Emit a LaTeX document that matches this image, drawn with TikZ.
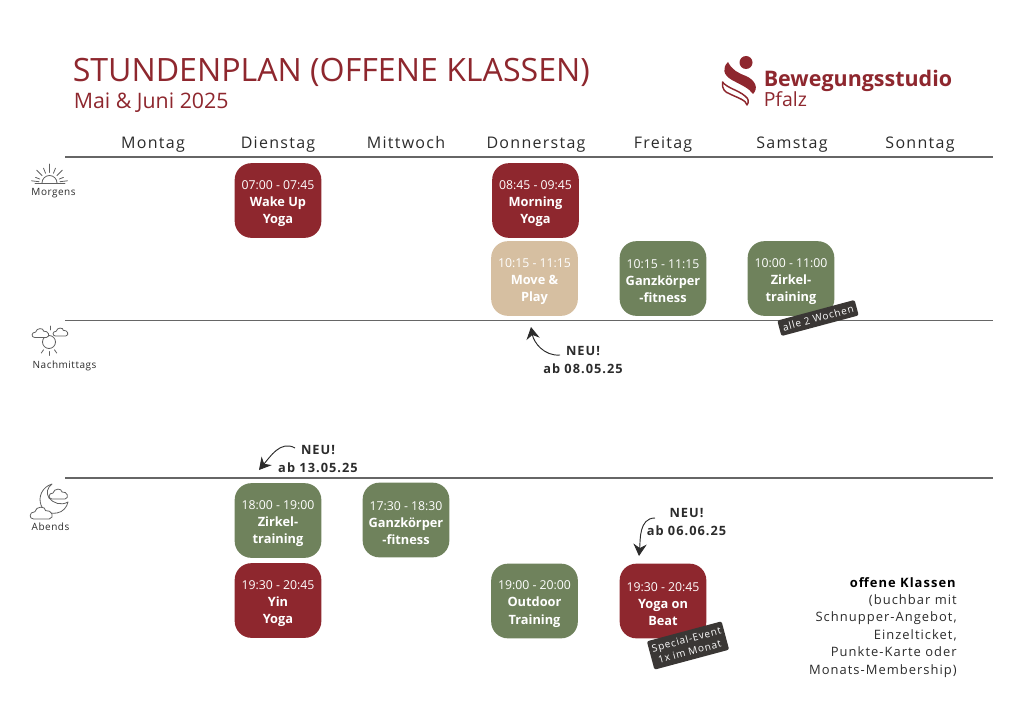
\documentclass[tikz,border=0pt]{standalone}
\usepackage{fontspec}
\setmainfont{Open Sans}
\newfontfamily\spaced[LetterSpace=8]{Open Sans}
\newfontfamily\spacedsmall[LetterSpace=5]{Open Sans}
\usetikzlibrary{arrows.meta}
\definecolor{wine}{HTML}{8E272E}
\definecolor{moss}{HTML}{6F825C}
\definecolor{sand}{HTML}{D6BFA1}
\definecolor{tagdark}{HTML}{3A3735}
\definecolor{rulegrey}{HTML}{666666}
\definecolor{ink}{HTML}{2B2B2B}
\newcommand{\blocktext}[3]{{\fontsize{9.2}{12.9}\selectfont\rule{0pt}{11pt}#1}\\\textbf{#2}\\\textbf{#3}}
\begin{document}
\begin{tikzpicture}
	[x=.75pt,y=-.75pt,
	block/.style ={rectangle, rounded corners=12.5pt, minimum width=65pt, minimum height=56pt, inner sep=0pt, text=white, align=center, font=\fontsize{9.6}{12.9}\selectfont},
	redblock/.style ={block, fill=wine},
	greenblock/.style ={block, fill=moss},
	sandblock/.style ={block, fill=sand},
	day/.style ={anchor=base, font=\fontsize{12}{14}\spaced, text=ink},
	daytime/.style ={anchor=base, font=\fontsize{7.5}{9}\spacedsmall, text=ink},
	newnote/.style ={font=\fontsize{9.6}{13}\spaced\bfseries, text=ink, align=center},
	tag/.style ={rectangle, rounded corners=1.5pt, fill=tagdark, text=white, align=center, inner sep=0pt, font=\fontsize{7.5}{9.4}\spaced},
	rule/.style ={rulegrey, line width=1.1pt},
	icon/.style ={ink!75, line width=.6pt, line cap=round, line join=round},
	hand/.style ={ink, line width=.7pt, -{Stealth[length=9pt,width=10pt,inset=3pt]}},
	cloudicon/.pic ={\draw[icon, fill=white] (-7,5) .. controls (-11,5) and (-11,-1) .. (-6,-1) .. controls (-5,-6) and (3,-6) .. (3,-2) .. controls (8,-3) and (11,4) .. (6,5) -- cycle;}]
	\useasboundingbox (0,0) rectangle (1024,724);
	% title
	\node[anchor=base west, inner sep=0pt, text=wine, font=\fontsize{24.1}{30}\selectfont] (title) at (72.5,81) {STUNDENPLAN (OFFENE KLASSEN)};
	\node[anchor=base west, inner sep=0pt, text=wine, font=\fontsize{16}{18}\selectfont] (subtitle) at (73.5,108.5) {Mai \& Juni 2025};
	% logo
	\fill[wine] (746,62.5) circle (6.5);
	\fill[wine] (728,62) .. controls (722,68) and (723,75) .. (732,80) .. controls (741,85) and (749,88) .. (753,94) .. controls (759,88) and (755,80) .. (746,76) .. controls (738,73) and (732,70) .. (728,62) -- cycle;
	\draw[wine, line width=1.1pt, line join=round] (722.5,82) .. controls (727,88) and (738,90) .. (745,96) .. controls (749,99) and (749,102) .. (747,105) .. controls (746,100) and (738,98) .. (730,94) .. controls (725,92) and (722,90) .. (722.5,82) -- cycle;
	\node[anchor=base west, inner sep=0pt, text=wine, font=\fontsize{16.1}{20}\selectfont\bfseries] (studio) at (763.5,86.5) {Bewegungsstudio};
	\node[anchor=base west, inner sep=0pt, text=wine, font=\fontsize{14.6}{18}\selectfont] (pfalz) at (763.5,106) {Pfalz};
	% weekdays
	\node[day] (mo) at (153,148) {Montag};
	\node[day] (di) at (278,148) {Dienstag};
	\node[day] (mi) at (406,148) {Mittwoch};
	\node[day] (do) at (536,148) {Donnerstag};
	\node[day] (fr) at (663,148) {Freitag};
	\node[day] (sa) at (792,148) {Samstag};
	\node[day] (so) at (920,148) {Sonntag};
	% rules
	\draw[rule] (65,157)--(993,157);
	\draw[rule] (65,320.5)--(993,320.5);
	\draw[rule] (65,478)--(993,478);
	% morning
	\node[daytime] (morgens) at (53.5,195) {Morgens};
	\draw[icon] (35,183)--(65,183);
	\draw[icon] (42,183) arc (180:360:7.5);
	\foreach \a/\r in {90/19,68/16,112/16,45/18,135/18,22/15,158/15,7/18,173/18}
		\draw[icon] (49.5,183) ++(-\a:10.5) -- ++(-\a:\r-10.5);
	\node[redblock] (wakeup) at (278,200.5) {\blocktext{07:00 - 07:45}{Wake Up}{Yoga}};
	\node[redblock] (morning) at (535.5,200.5) {\blocktext{08:45 - 09:45}{Morning}{Yoga}};
	\node[sandblock] (moveplay) at (534.5,278.5) {\blocktext{10:15 - 11:15}{Move \&}{Play}};
	\node[greenblock] (ganzfr) at (663,278.5) {\blocktext{10:15 - 11:15}{Ganzkörper}{-fitness}};
	\node[greenblock] (zirkelsa) at (791,278.5) {\blocktext{10:00 - 11:00}{Zirkel-}{training}};
	\node[tag, rotate=15, minimum width=60pt, minimum height=12pt] (zweiwochen) at (818,318) {alle 2 Wochen};
	% afternoon
	\node[daytime] (nachmittags) at (64.5,368) {Nachmittags};
	\draw[icon] (49,342) circle (6.5);
	\foreach \a in {90,125,55}
		\draw[icon] (49,342) ++(\a:9.5) -- ++(\a:4);
	\draw[icon] (50,330)--(50,326);
	\pic[scale=.9] at (41,333) {cloudicon};
	\pic[scale=.8] at (61,332) {cloudicon};
	% evening
	\node[daytime] (abends) at (50.5,530) {Abends};
	\draw[icon] (52,484) .. controls (42,487) and (38,497) .. (41,505) .. controls (44,513) and (52,514) .. (57,513) .. controls (63,512) and (67,507) .. (68,502) .. controls (61,506) and (53,503) .. (49,498) .. controls (46,493) and (47,488) .. (52,484) -- cycle;
	\pic at (59,494) {cloudicon};
	\pic[scale=1.2] at (42,513) {cloudicon};
	\node[greenblock] (zirkeldi) at (278,520.5) {\blocktext{18:00 - 19:00}{Zirkel-}{training}};
	\node[greenblock] (ganzmi) at (406,520) {\blocktext{17:30 - 18:30}{Ganzkörper}{-fitness}};
	\node[redblock] (yin) at (278,600.5) {\blocktext{19:30 - 20:45}{Yin}{Yoga}};
	\node[greenblock] (outdoor) at (534.5,601) {\blocktext{19:00 - 20:00}{Outdoor}{Training}};
	\node[redblock] (beat) at (663,601) {\blocktext{19:30 - 20:45}{Yoga on}{Beat}};
	\node[tag, rotate=15, minimum width=58pt, minimum height=22pt] (special) at (688,645.5) {Special-Event\\1x im Monat};
	% new notes
	\node[newnote] (neu1) at (583,360) {NEU!\\ab 08.05.25};
	\node[newnote] (neu2) at (318,459) {NEU!\\ab 13.05.25};
	\node[newnote] (neu3) at (686.5,522) {NEU!\\ab 06.06.25};
	\coordinate (tail1) at (560,355);
	\coordinate (tip1) at (531,327);
	\coordinate (tail2) at (295,448);
	\coordinate (tip2) at (259,470);
	\coordinate (tail3) at (655,518);
	\coordinate (tip3) at (639,556);
	\draw[hand] (tail1) to [out=185,in=-80] (tip1);
	\draw[hand] (tail2) to [out=150,in=50] (tip2);
	\draw[hand] (tail3) to [out=180,in=85] (tip3);
	% legend
	\node[anchor=north east, inner sep=0pt, align=right, text=ink, font=\fontsize{9.7}{13.05}\spaced] (legend) at (957,577) {\textcolor{black}{\textbf{offene Klassen}}\\(buchbar mit\\Schnupper-Angebot,\\Einzelticket,\\Punkte-Karte oder\\Monats-Membership)};
\end{tikzpicture}
\end{document}
